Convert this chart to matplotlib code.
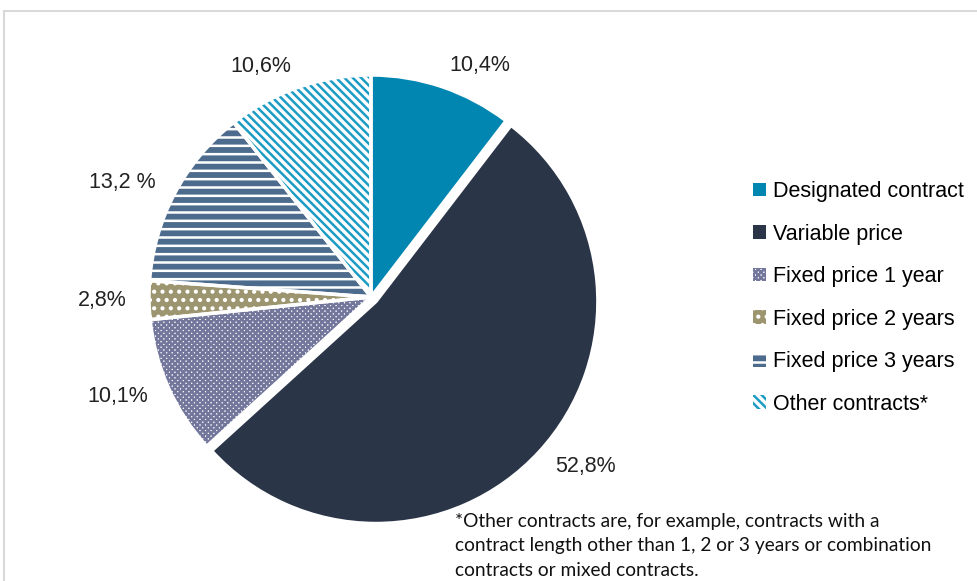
import matplotlib
matplotlib.use("Agg")
import matplotlib.pyplot as plt
from matplotlib.lines import Line2D

categories = ["Designated contract", "Variable price", "Fixed price 1 year",
              "Fixed price 2 years", "Fixed price 3 years", "Other contracts*"]
shares = [10.4, 52.8, 10.1, 2.8, 13.2, 10.6]
pct_labels = ["10,4%", "52,8%", "10,1%", "2,8%", "13,2 %", "10,6%"]

face = ["#0086b0", "#2b3548", "#ffffff", "#9d9570", "#4d6b8c", "#ffffff"]
hatch_col = ["#0086b0", "#2b3548", "#74779c", "#ffffff", "#ffffff", "#1b9cc4"]
hatches = [None, None, "xxxxxx", "..", "--", "\\\\\\\\"]

plt.rcParams["hatch.linewidth"] = 1.8
plt.rcParams["font.family"] = ["Liberation Sans", "DejaVu Sans"]

fig = plt.figure(figsize=(9.78, 5.81), dpi=100)
W, H = 978, 581
cx, cy, R = 371, 297, 222
half = 1.3 * R
ax = fig.add_axes([(cx - half) / W, (H - cy - half) / H, 2 * half / W, 2 * half / H])

explode = [0, 0.03, 0, 0, 0, 0]
wedges, texts = ax.pie(shares, labels=pct_labels, labeldistance=1.1, startangle=90,
                       counterclock=False, explode=explode,
                       wedgeprops=dict(linewidth=0),
                       textprops=dict(fontsize=15.5, color="#222222"))
for w, fc, hc, h in zip(wedges, face, hatch_col, hatches):
    w.set_facecolor(fc)
    w.set_edgecolor(hc)
    if h:
        w.set_hatch(h)

# white borders between slices
outl, _ = ax.pie(shares, startangle=90, counterclock=False, explode=explode,
                 wedgeprops=dict(fill=False, edgecolor="white", linewidth=2.5))
ax.set_xlim(-1.3, 1.3)
ax.set_ylim(-1.3, 1.3)
ax.set_aspect("equal")

fig.legend(wedges, categories, loc="center left",
           bbox_to_anchor=(734 / W, 1 - 298 / H), frameon=False,
           fontsize=15.5, handlelength=0.6, handleheight=0.6,
           handletextpad=0.3, labelspacing=1.0)

fig.text(455 / W, 1 - 513 / H,
         "*Other contracts are, for example, contracts with a\n"
         "contract length other than 1, 2 or 3 years or combination\n"
         "contracts or mixed contracts.",
         fontsize=13.8, family=["Lato", "DejaVu Sans"], va="top", ha="left",
         linespacing=1.52, color="#111111")

# light frame around the chart area
fig.add_artist(Line2D([4 / W, 4 / W], [0, 1 - 11 / H], color="#d9d9d9", lw=1.5))
fig.add_artist(Line2D([4 / W, 1], [1 - 11 / H, 1 - 11 / H], color="#d9d9d9", lw=1.5))

fig.savefig("out.png", dpi=100)
